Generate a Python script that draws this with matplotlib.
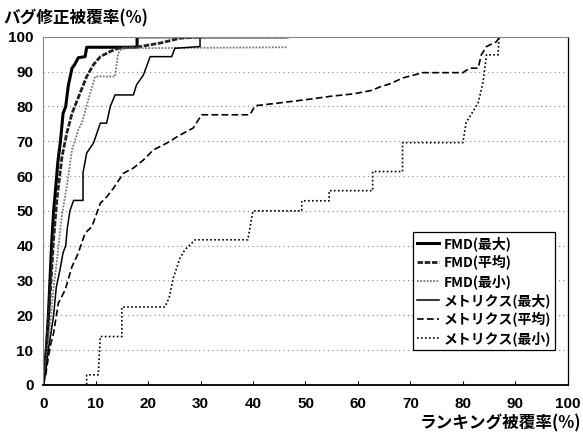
import matplotlib
matplotlib.use("Agg")
import matplotlib.pyplot as plt

plt.rcParams['font.family'] = ['Noto Sans CJK JP', 'DejaVu Sans']

# --- data (x: ranking coverage %, y: bug-fix coverage %) ---
fmd_max_x = [0, 0.3, 0.6, 1.0, 1.3, 1.6, 2.0, 2.3, 2.8, 3.3, 3.8, 4.3, 4.8, 5.5, 6.0, 6.7, 8.0, 8.3, 17.9, 17.9, 46.5]
fmd_max_y = [0, 5, 10, 20, 30, 40, 50, 55, 64, 70, 78, 80, 86, 91, 92, 94, 94.3, 97, 97, 100, 100]

fmd_avg_x = [0, 0.5, 1.0, 1.5, 2.0, 2.6, 3.6, 4.5, 5.5, 6.4, 7.4, 8.3, 9.6, 10.9, 12.8, 14.3, 18.5, 22.3, 26.1, 30, 46.5]
fmd_avg_y = [0, 8, 18, 30, 42, 53, 65.6, 72.3, 78, 81.4, 85.2, 88.6, 92, 94.3, 95.8, 96.7, 97.2, 98.2, 99.6, 100, 100]

fmd_min_x = [0, 0.5, 1.2, 2.0, 2.8, 3.5, 4.5, 5.5, 6.7, 7.4, 8.6, 9.9, 13.7, 14.3, 15.0, 46.5]
fmd_min_y = [0, 5, 15, 28, 38, 48, 57, 67.5, 73.3, 75.3, 81.9, 88.6, 88.6, 95.3, 96.7, 97]

met_max_x = [0, 0.5, 1.0, 1.5, 2.0, 2.5, 3.2, 3.8, 4.3, 4.6, 5.1, 5.8, 7.6, 7.6, 8.3, 9.6, 10.9, 12.1, 12.8, 13.7, 17.2, 17.8, 19.1, 20.4, 24.5, 25.1, 29.9, 29.9, 46.5]
met_max_y = [0, 4, 10, 15, 20, 28, 33, 38, 40, 45, 50, 53, 53, 61, 66.6, 69.5, 75.2, 75.2, 80, 83.3, 83.3, 86.2, 89, 94.3, 94.3, 96.7, 97.2, 100, 100]

met_avg_x = [0, 0.5, 1.0, 1.5, 2.0, 2.9, 4.2, 5.5, 6.7, 8.0, 9.3, 10.9, 12.1, 13.4, 15.3, 17.2, 19.1, 21.0, 23.6, 26.1, 28.6, 30.2, 39.4, 40.4, 45.0, 50.9, 54.7, 59.1, 62.6, 64.2, 66.1, 68.6, 72.4, 80.0, 81.3, 82.9, 83.5, 84.5, 86.4, 87.0, 100]
met_avg_y = [0, 3, 8, 12, 15, 23.5, 27.3, 34, 37.9, 43.6, 45.5, 52.2, 54, 56.5, 60.8, 62.3, 64.6, 67.5, 69.5, 71.8, 73.8, 77.6, 77.6, 80.2, 81, 82.1, 82.9, 83.6, 84.6, 85.6, 86.5, 88.2, 89.7, 89.7, 91, 91, 94.8, 97.2, 98.6, 100, 100]

met_min_x = [0, 8.3, 8.3, 10.5, 10.9, 15.0, 15.0, 23.2, 24.0, 24.8, 26.1, 27.0, 29.0, 39.0, 40.0, 49.3, 49.3, 54.5, 54.5, 62.8, 62.8, 68.5, 68.5, 80.0, 80.6, 82.9, 83.8, 84.5, 86.7, 86.9, 100]
met_min_y = [0, 0, 2.9, 2.9, 13.9, 13.9, 22.4, 22.4, 25, 30.7, 36.5, 38.8, 41.7, 41.7, 50, 50, 52.9, 52.9, 55.8, 55.8, 61.3, 61.3, 69.6, 69.6, 75.3, 81, 86.7, 94.8, 94.8, 100, 100]

labels = ['FMD(最大)', 'FMD(平均)', 'FMD(最小)', 'メトリクス(最大)', 'メトリクス(平均)', 'メトリクス(最小)']
x_ticks = [0, 10, 20, 30, 40, 50, 60, 70, 80, 90, 100]
y_ticks = [0, 10, 20, 30, 40, 50, 60, 70, 80, 90, 100]

fig = plt.figure(figsize=(5.83, 4.33), dpi=100)
ax = fig.add_axes([0.074, 0.111, 0.9, 0.804])

ax.plot(fmd_max_x, fmd_max_y, color='black', lw=2.2, ls='-', label=labels[0])
ax.plot(fmd_avg_x, fmd_avg_y, color='#222222', lw=2.0, ls=(0, (2, 0.6)), label=labels[1])
ax.plot(fmd_min_x, fmd_min_y, color='#777777', lw=1.3, ls=(0, (1, 0.8)), label=labels[2])
ax.plot(met_max_x, met_max_y, color='black', lw=1.1, ls='-', label=labels[3])
ax.plot(met_avg_x, met_avg_y, color='black', lw=1.2, ls=(0, (4, 2)), label=labels[4])
ax.plot(met_min_x, met_min_y, color='black', lw=1.2, ls=(0, (1, 1.4)), label=labels[5])

ax.set_xlim(0, 100)
ax.set_ylim(0, 100)
ax.set_xticks(x_ticks)
ax.set_yticks(y_ticks)
ax.tick_params(axis='x', direction='in', length=3, pad=9)
ax.tick_params(axis='y', length=0, pad=7)
for t in ax.get_xticklabels() + ax.get_yticklabels():
    t.set_fontfamily(['Liberation Sans'])
    t.set_fontweight('bold')
    t.set_fontsize(11)

for yv in y_ticks[1:-1]:
    ax.axhline(yv, color='#888888', lw=0.8, ls=(0, (1, 3)), zorder=0)

for s in ['left', 'top']:
    ax.spines[s].set_color('#888888')
    ax.spines[s].set_linewidth(0.8)
ax.spines['right'].set_linewidth(0.9)
ax.spines['bottom'].set_linewidth(1.3)

fig.text(0.005, 0.958, 'バグ修正被覆率(%)', fontsize=12, fontweight='bold', va='center', ha='left')
fig.text(0.997, 0.023, 'ランキング被覆率(%)', fontsize=12, fontweight='bold', va='center', ha='right')

leg = ax.legend(loc='upper left', bbox_to_anchor=(0.705, 0.44), frameon=True, fancybox=False,
                edgecolor='black', framealpha=1, fontsize=10, handlelength=1.6, handletextpad=0.3,
                borderpad=0.3, labelspacing=0.3, borderaxespad=0)
leg.get_frame().set_linewidth(0.9)
for t in leg.get_texts():
    t.set_fontweight('bold')

fig.savefig('out.png', dpi=100)
